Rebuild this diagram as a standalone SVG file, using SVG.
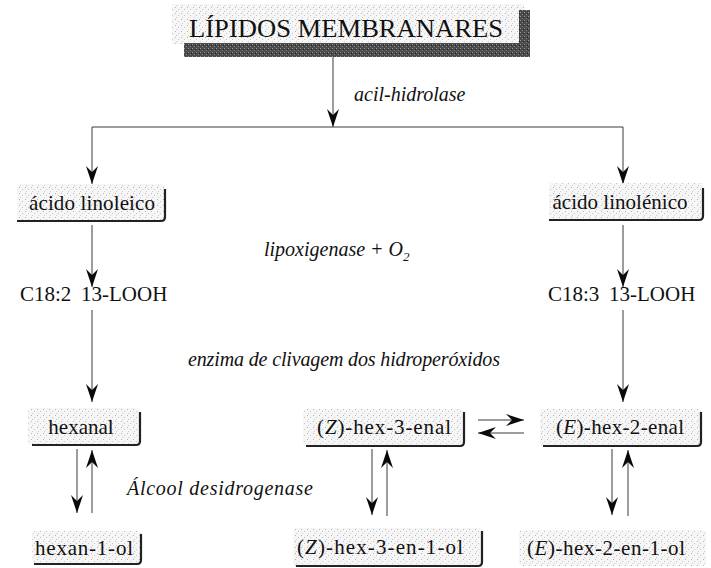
<svg xmlns="http://www.w3.org/2000/svg" width="711" height="568" viewBox="0 0 711 568">
  <defs>
    <pattern id="stipple" width="6" height="6" patternUnits="userSpaceOnUse">
      <rect width="6" height="6" fill="#f6f6f6"/>
      <rect x="1" y="1" width="1" height="1" fill="#b4b4b4"/>
      <rect x="4" y="3" width="1" height="1" fill="#c4c4c4"/>
      <rect x="2" y="5" width="1" height="1" fill="#cecece"/>
    </pattern>
    <pattern id="darkgrain" width="4" height="4" patternUnits="userSpaceOnUse">
      <rect width="4" height="4" fill="#4a4a4a"/>
      <rect x="0" y="0" width="1" height="1" fill="#9a9a9a"/>
      <rect x="2" y="2" width="1" height="1" fill="#8a8a8a"/>
      <rect x="3" y="1" width="1" height="1" fill="#222"/>
    </pattern>
    <!-- dart-shaped arrowhead, drawn along +x so orient="auto" follows the line -->
    <marker id="dart" viewBox="0 0 18 12" refX="18" refY="6" markerWidth="18" markerHeight="12" markerUnits="userSpaceOnUse" orient="auto">
      <path d="M0,0 L18,6 L0,12 L6,6 Z" fill="#0a0a0a"/>
    </marker>
  </defs>
  <style>
    .box { fill: url(#stipple); stroke: none; }
    .shadow { fill: none; stroke: #222; stroke-width: 2.2; }
    .lbl { font-family: "Liberation Serif", "Times New Roman", serif; font-size: 21px; fill: #111; }
    .it { font-family: "Liberation Serif", "Times New Roman", serif; font-size: 20px; font-style: italic; fill: #111; }
    .line { fill: none; stroke: #3a3a3a; stroke-width: 1; }
  </style>
  <rect width="711" height="568" fill="#fff"/>

  <!-- title block -->
  <g id="titulo">
    <rect x="172" y="4" width="352" height="40" fill="url(#stipple)"/>
    <rect x="184" y="43" width="346" height="14" fill="url(#darkgrain)"/>
    <rect x="519" y="10" width="11" height="47" fill="url(#darkgrain)"/>
    <text x="346" y="37" text-anchor="middle" font-family="Liberation Serif, serif" font-size="26" fill="#111" textLength="314" lengthAdjust="spacingAndGlyphs">LÍPIDOS MEMBRANARES</text>
  </g>

  <!-- connectors -->
  <g id="conectores">
    <line class="line" x1="333" y1="57" x2="333" y2="127" marker-end="url(#dart)"/>
    <line class="line" x1="92" y1="127" x2="623" y2="127" stroke-width="1.8"/>
    <line class="line" x1="92" y1="127" x2="92" y2="184" marker-end="url(#dart)"/>
    <line class="line" x1="623" y1="127" x2="623" y2="184" marker-end="url(#dart)"/>
    <line class="line" x1="92" y1="225" x2="92" y2="287" marker-end="url(#dart)"/>
    <line class="line" x1="623" y1="225" x2="623" y2="287" marker-end="url(#dart)"/>
    <line class="line" x1="92" y1="310" x2="92" y2="402" marker-end="url(#dart)"/>
    <line class="line" x1="623" y1="310" x2="623" y2="402" marker-end="url(#dart)"/>
    <!-- hexanal / hexan-1-ol -->
    <line class="line" x1="77" y1="449" x2="77" y2="513" marker-end="url(#dart)"/>
    <line class="line" x1="92" y1="513" x2="92" y2="450" marker-end="url(#dart)"/>
    <!-- (Z)-hex-3-enal / (Z)-hex-3-en-1-ol -->
    <line class="line" x1="372" y1="449" x2="372" y2="515" marker-end="url(#dart)"/>
    <line class="line" x1="387" y1="516" x2="387" y2="450" marker-end="url(#dart)"/>
    <!-- (E)-hex-2-enal / (E)-hex-2-en-1-ol -->
    <line class="line" x1="612" y1="449" x2="612" y2="515" marker-end="url(#dart)"/>
    <line class="line" x1="628" y1="516" x2="628" y2="450" marker-end="url(#dart)"/>
    <!-- isomerisation -->
    <line class="line" x1="478" y1="420" x2="524" y2="420" marker-end="url(#dart)"/>
    <line class="line" x1="524" y1="433" x2="478" y2="433" marker-end="url(#dart)"/>
  </g>

  <!-- enzyme labels -->
  <g id="enzimas">
    <text class="it" x="354" y="101" font-size="17">acil-hidrolase</text>
    <text class="it" x="264" y="256">lipoxigenase + O<tspan font-size="13" dy="5">2</tspan></text>
    <text class="it" x="188" y="366" textLength="312">enzima de clivagem dos hidroperóxidos</text>
    <text class="it" x="127" y="495" textLength="186">Álcool desidrogenase</text>
  </g>

  <g id="acido-linoleico">
    <rect class="box" x="17" y="184" width="148" height="37" rx="4"/>
    <path class="shadow" d="M17,221 H161 Q165,221 165,217 V189"/>
    <text class="lbl" x="92" y="210" text-anchor="middle" textLength="126">ácido linoleico</text>
  </g>

  <g id="acido-linolenico">
    <rect class="box" x="549" y="183" width="154" height="37" rx="4"/>
    <path class="shadow" d="M549,220 H699 Q703,220 703,216 V188"/>
    <text class="lbl" x="620" y="209" text-anchor="middle" textLength="135">ácido linolénico</text>
  </g>

  <g id="c18-2">
    <text class="lbl" y="301"><tspan x="20">C18:2</tspan><tspan x="81">13-LOOH</tspan></text>
  </g>
  <g id="c18-3">
    <text class="lbl" y="301"><tspan x="548">C18:3</tspan><tspan x="609">13-LOOH</tspan></text>
  </g>

  <g id="hexanal">
    <rect class="box" x="28" y="408" width="112" height="37" rx="4"/>
    <path class="shadow" d="M32,445 H136 Q140,445 140,441 V412"/>
    <text class="lbl" x="81" y="434" text-anchor="middle">hexanal</text>
  </g>

  <g id="hexan-1-ol">
    <rect class="box" x="32" y="531" width="109" height="33" rx="4"/>
    <path class="shadow" d="M34,564 H137 Q141,564 141,560 V534"/>
    <text class="lbl" x="84" y="555" text-anchor="middle" textLength="98">hexan-1-ol</text>
  </g>

  <g id="z-hex-3-enal">
    <rect class="box" x="303" y="409" width="161" height="37" rx="4"/>
    <path class="shadow" d="M306,446 H460 Q464,446 464,442 V412"/>
    <text class="lbl" x="384" y="434" text-anchor="middle" textLength="134">(<tspan font-style="italic">Z</tspan>)-hex-3-enal</text>
  </g>

  <g id="e-hex-2-enal">
    <rect class="box" x="540" y="409" width="161" height="37" rx="4"/>
    <path class="shadow" d="M543,446 H697 Q701,446 701,442 V412"/>
    <text class="lbl" x="620" y="434" text-anchor="middle" textLength="128">(<tspan font-style="italic">E</tspan>)-hex-2-enal</text>
  </g>

  <g id="z-hex-3-en-1-ol">
    <rect class="box" x="293" y="528" width="189" height="38" rx="4"/>
    <path class="shadow" d="M296,566 H478 Q482,566 482,562 V531"/>
    <text class="lbl" x="380" y="554" text-anchor="middle" textLength="166">(<tspan font-style="italic">Z</tspan>)-hex-3-en-1-ol</text>
  </g>

  <g id="e-hex-2-en-1-ol">
    <rect class="box" x="519" y="530" width="187" height="36" rx="4"/>
    <text class="lbl" x="606" y="555" text-anchor="middle" textLength="158">(<tspan font-style="italic">E</tspan>)-hex-2-en-1-ol</text>
  </g>
</svg>
